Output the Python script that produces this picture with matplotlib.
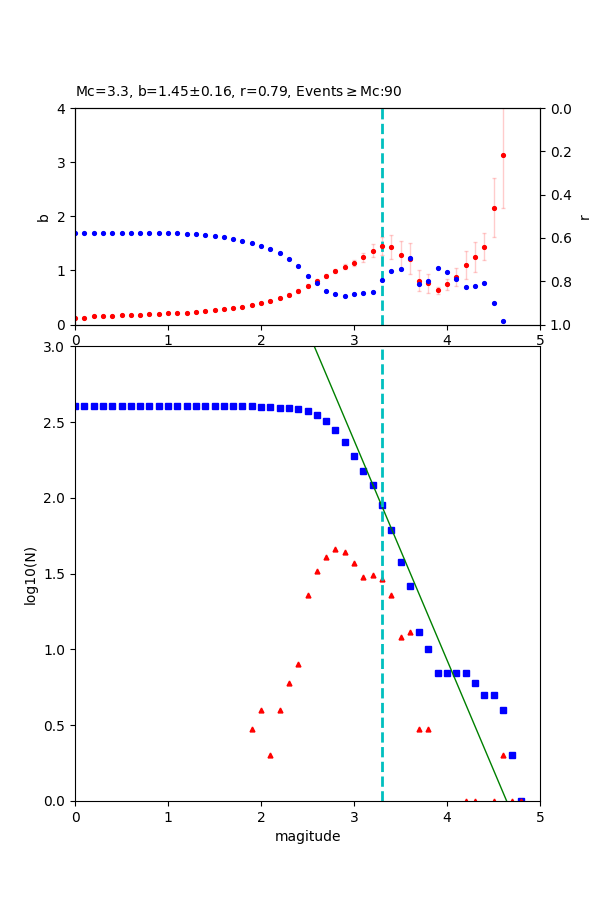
import numpy as np
import matplotlib
matplotlib.use("Agg")
from matplotlib import pyplot as plt

# magnitude bins (0.1 step)
mags_b = np.round(np.arange(0.0, 4.65, 0.1), 1)      # 0.0 .. 4.6
mags_n = np.round(np.arange(0.0, 4.85, 0.1), 1)      # 0.0 .. 4.8

# b-value estimate for each cut-off magnitude
b_vals = [0.12, 0.13, 0.15, 0.15, 0.15, 0.17, 0.17, 0.17, 0.19, 0.19,
          0.21, 0.22, 0.22, 0.235, 0.25, 0.27, 0.29, 0.31, 0.33, 0.36,
          0.40, 0.44, 0.49, 0.55, 0.62, 0.72, 0.81, 0.90, 0.99, 1.07,
          1.14, 1.24, 1.36, 1.45, 1.44, 1.29, 1.22, 0.81, 0.76, 0.63,
          0.74, 0.88, 1.10, 1.25, 1.44, 2.16, 3.14]
b_err = [0.01, 0.01, 0.01, 0.01, 0.01, 0.01, 0.01, 0.01, 0.01, 0.01,
         0.01, 0.01, 0.01, 0.01, 0.01, 0.01, 0.01, 0.01, 0.01, 0.015,
         0.015, 0.02, 0.02, 0.025, 0.03, 0.03, 0.035, 0.04, 0.045, 0.05,
         0.05, 0.08, 0.12, 0.16, 0.22, 0.25, 0.29, 0.19, 0.17, 0.07,
         0.10, 0.16, 0.25, 0.28, 0.25, 0.54, 0.99]
# goodness of fit (right axis)
r_vals = [0.575, 0.575, 0.575, 0.575, 0.575, 0.575, 0.575, 0.575, 0.575, 0.575,
          0.575, 0.575, 0.58, 0.58, 0.585, 0.59, 0.594, 0.603, 0.613, 0.622,
          0.636, 0.65, 0.668, 0.696, 0.731, 0.775, 0.81, 0.844, 0.861, 0.867,
          0.861, 0.856, 0.849, 0.794, 0.751, 0.742, 0.691, 0.815, 0.798, 0.738,
          0.756, 0.789, 0.826, 0.821, 0.807, 0.90, 0.983]

# event counts per bin and cumulative (N >= M)
n_bin = [0, 0, 0, 0, 0, 0, 0, 0, 0, 0,
         0, 0, 0, 0, 0, 0, 0, 0, 0, 3,
         4, 2, 4, 6, 8, 23, 33, 41, 46, 44,
         37, 30, 31, 29, 23, 12, 13, 3, 3, 0,
         0, 0, 1, 1, 0, 1, 2, 1, 1]
n_cum = [402, 402, 402, 402, 402, 402, 402, 402, 402, 402,
         402, 402, 402, 402, 402, 402, 402, 402, 402, 402,
         399, 395, 393, 389, 383, 375, 352, 319, 278, 232,
         188, 151, 121, 90, 61, 38, 26, 13, 10, 7,
         7, 7, 7, 6, 5, 5, 4, 2, 1]

mc = 3.3
a_fit = 6.73
b_fit = 1.45
title = "Mc=3.3, b=1.45±0.16, r=0.79, Events$\\geq$Mc:90"

fig = plt.figure(figsize=(6, 9), dpi=100)
gs = fig.add_gridspec(3, 1, hspace=0.1)
ax1 = fig.add_subplot(gs[0])
ax3 = fig.add_subplot(gs[1:])

# top: b-value and r vs cut-off magnitude
ax1.errorbar(mags_b, b_vals, yerr=b_err, fmt='r.', ecolor=(1, 0, 0, 0.2),
             capsize=1.5, elinewidth=1, markersize=5.5)
ax1.axvline(mc, color='c', linestyle='--', linewidth=2)
ax1.set_xlim(0, 5)
ax1.set_ylim(0, 4)
ax1.set_ylabel('b')
ax1.set_title(title, loc='left', fontsize=10, pad=9)

ax2 = ax1.twinx()
ax2.plot(mags_b, r_vals, 'b.', markersize=5.5)
ax2.set_ylim(1, 0)
ax2.set_ylabel('r')

# bottom: frequency-magnitude distribution
with np.errstate(divide='ignore'):
    log_cum = np.where(np.array(n_cum) > 0, np.log10(np.array(n_cum, dtype=float)), np.nan)
    log_bin = np.where(np.array(n_bin) > 0, np.log10(np.array(n_bin, dtype=float)), np.nan)

fit_x = np.array([0.0, 5.0])
ax3.plot(mags_n, log_cum, 'bs', markersize=4)
ax3.plot(mags_n, log_bin, 'r^', markersize=3.5)
ax3.plot(fit_x, a_fit - b_fit * fit_x, 'g-', linewidth=1)
ax3.axvline(mc, color='c', linestyle='--', linewidth=2)
ax3.set_xlim(0, 5)
ax3.set_ylim(0, 3)
ax3.set_xlabel('magitude')
ax3.set_ylabel('log10(N)')

fig.savefig('out.png', dpi=100)
